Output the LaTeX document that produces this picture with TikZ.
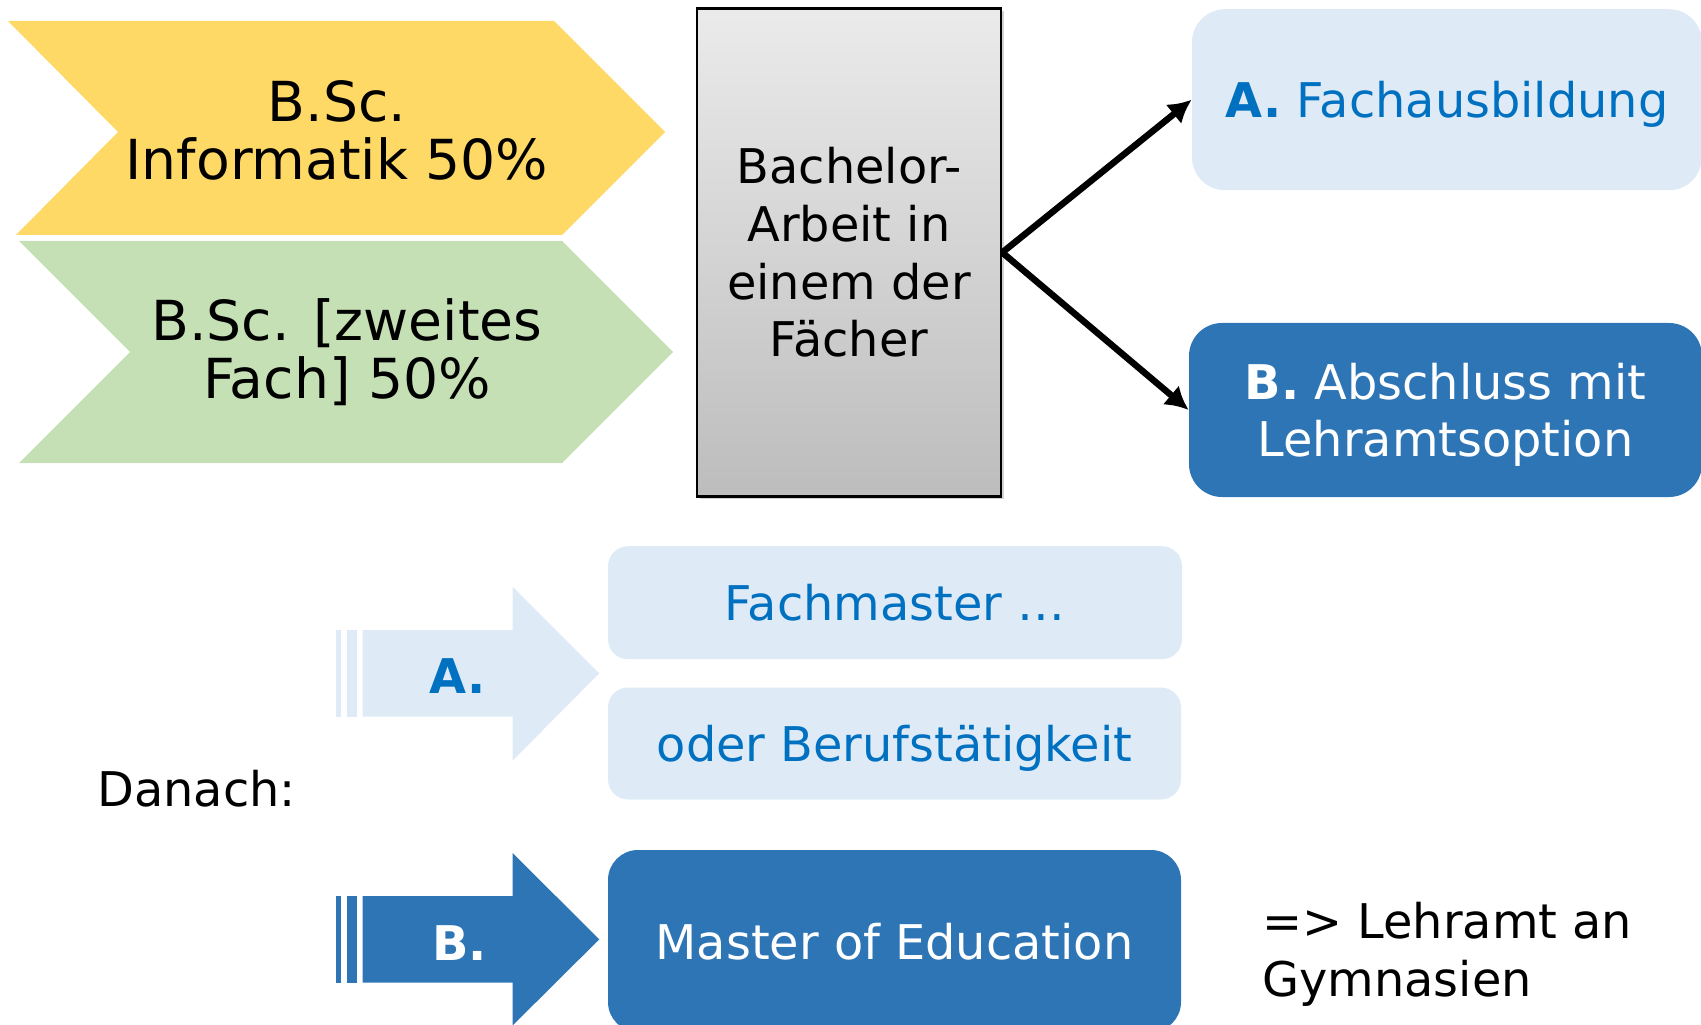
\documentclass[tikz,border=0pt]{standalone}
\usepackage{fontspec}
\setmainfont{DejaVu Sans}
\usetikzlibrary{positioning,arrows.meta,shadows}
\definecolor{chevyellow}{HTML}{FFD966}
\definecolor{chevgreen}{HTML}{C5E0B4}
\definecolor{paleblue}{HTML}{DEEBF7}
\definecolor{darkblue}{HTML}{2E75B6}
\definecolor{textblue}{HTML}{0070C0}
\def\pxu{0.2mm}

\begin{document}
\begin{tikzpicture}[x=0.2mm,y=-0.2mm,
  bigfont/.style={font=\fontsize{31.4}{33.3}\selectfont},
  smallfont/.style={font=\fontsize{27.2}{32.8}\selectfont},
  palebox/.style={smallfont,fill=paleblue,text=textblue,align=center,inner sep=0pt,text depth=0pt},
  darkbox/.style={smallfont,fill=darkblue,text=white,align=center,inner sep=0pt,text depth=0pt},
  thickarrow/.style={line width=1.3mm,-{Latex[length=4.6mm,width=5mm]}}]
\useasboundingbox (0,0) rectangle (1701,1025);

\def\sa{335.7};
\def\sb{340.7};
\def\sc{346.7};
\def\sd{357.3};
\def\shaft{362.7};
\def\neck{512.5};
\def\tip{599.3};

\fill[chevyellow] (8,21) -- (554,21) -- (665,132) -- (562,235) -- (16,235) -- (118,132) -- cycle;
\fill[chevgreen] (19,241) -- (562,241) -- (673,352) -- (562,463) -- (19,463) -- (130,352) -- cycle;
\node[bigfont, align=center, anchor=north, inner sep=0pt] (inf) at (337,80) {B.Sc.\\Informatik 50\%};
\node[bigfont, align=center, anchor=north, inner sep=0pt] (zweit) at (347,298) {B.Sc. [zweites\\Fach] 50\%};

\node[smallfont, align=center, draw, line width=1.4pt, top color=white!92!black, bottom color=white!74!black,
  drop shadow={shadow xshift=1.5pt, shadow yshift=-1.5pt, opacity=0.35},
  minimum width=304*\pxu, minimum height=488*\pxu] (thesis) at (849,252.5) {Bachelor-\\Arbeit in\\einem der\\Fächer};

\node[palebox, rounded corners=6.6mm, minimum width=510*\pxu, minimum height=181*\pxu] (fach) at (1447,99.7) {\textbf{A.} Fachausbildung};
\node[darkbox, rounded corners=6.6mm, minimum width=513*\pxu, minimum height=174*\pxu] (lehr) at (1445.5,410) {\textbf{B.} Abschluss mit\\Lehramtsoption};

\draw[thickarrow] (thesis.east) -- (fach.west);
\draw[thickarrow] (thesis.east) -- (lehr.west);

\fill[paleblue] (\sa,630) rectangle (\sb,716.7);
\fill[paleblue] (\sc,630) rectangle (\sd,716.7);
\fill[paleblue] (\shaft,630) -- (\neck,630) -- (\neck,586.7) -- (\tip,673.3) -- (\neck,760.7) -- (\neck,716.7) -- (\shaft,716.7) -- cycle;
\node[smallfont, text=textblue, anchor=base, inner sep=0pt] (pa) at (458,693.3) {\textbf{A.}};

\fill[darkblue] (\sa,896) rectangle (\sb,982.7);
\fill[darkblue] (\sc,896) rectangle (\sd,982.7);
\fill[darkblue] (\shaft,896) -- (\neck,896) -- (\neck,853) -- (\tip,939.3) -- (\neck,1025.6) -- (\neck,982.7) -- (\shaft,982.7) -- cycle;
\node[smallfont, text=white, anchor=base, inner sep=0pt] (pb) at (459.3,960) {\textbf{B.}};

\node[palebox, rounded corners=4mm, minimum width=574*\pxu, minimum height=113*\pxu] (fm) at (895,602.7) {Fachmaster …};
\node[palebox, rounded corners=4mm, minimum width=573*\pxu, minimum height=112*\pxu] (bt) at (894.5,743.5) {oder Berufstätigkeit};
\node[darkbox, rounded corners=6mm, minimum width=573*\pxu, minimum height=182*\pxu] (med) at (894.5,941) {Master of Education};

\node[smallfont, anchor=base west, inner sep=0pt] (dan) at (97,806.7) {Danach:};
\node[smallfont, align=left, anchor=north west, inner sep=0pt] (gym) at (1262,902) {=> Lehramt an\\Gymnasien};

\end{tikzpicture}
\end{document}
